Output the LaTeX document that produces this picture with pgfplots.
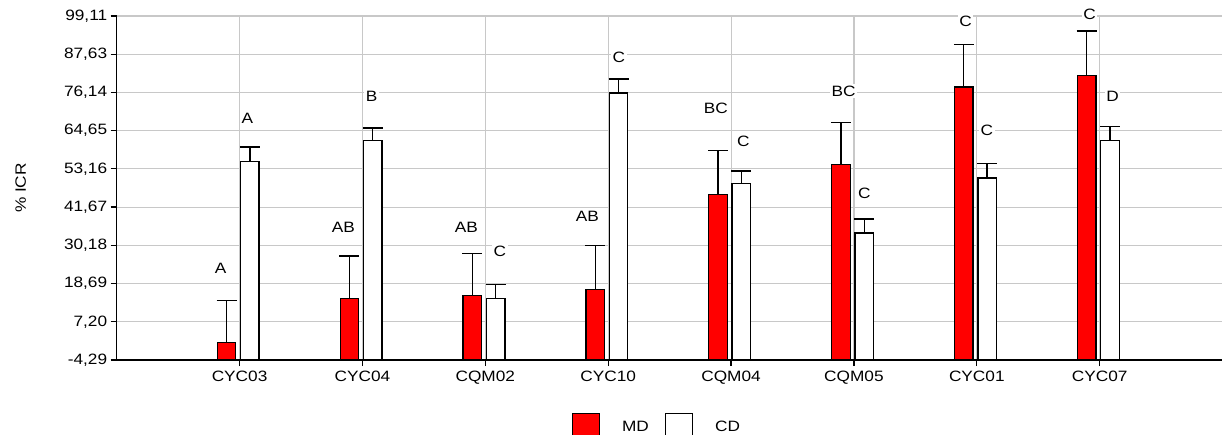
\documentclass[border=0pt]{standalone}
\usepackage{fontspec}
\setmainfont{Liberation Sans}[FakeStretch=1.15]
\usepackage{pgfplots}
\usepackage{pgfplotstable}
\pgfplotsset{compat=1.18}
\definecolor{mdred}{RGB}{255,0,0}
\definecolor{gridgray}{RGB}{200,200,200}

\pgfplotstableread{
x md mderr cd cderr
0 0.91 12.63 55.30 4.44
1 14.26 12.71 61.64 3.81
2 15.16 12.62 14.26 4.20
3 16.96 13.12 75.97 4.21
4 45.51 13.23 48.71 3.80
5 54.53 12.62 33.88 4.21
6 77.77 12.82 50.41 4.31
7 81.28 13.32 61.64 4.20
}\bars

\pgfplotstableread{
x y lab
-0.154 23.36 A
0.063 68.45 A
0.844 35.48 AB
1.075 75.07 B
1.845 35.48 AB
2.119 28.26 C
2.830 38.79 AB
3.087 86.69 C
3.877 71.37 BC
4.099 61.33 C
4.916 76.57 BC
5.084 45.81 C
5.909 97.61 C
6.082 64.85 C
6.918 99.60 C
7.105 74.86 D
}\letters

\begin{document}
\begin{tikzpicture}[font=\fontsize{15bp}{18bp}\selectfont]
\useasboundingbox (-116.7bp,-75bp) rectangle (1105.3bp,360bp);
\begin{axis}[
  scale only axis,
  width=1106bp, height=344bp,
  at={(0,0)}, anchor=south west,
  xmin=-1, xmax=8,
  ymin=-4.29, ymax=99.11,
  y coord trafo/.code={\pgfmathparse{#1+4.29}},
  y coord inv trafo/.code={\pgfmathparse{#1-4.29}},
  clip=false,
  axis x line=bottom, axis y line=left,
  axis line style={-, line width=1.4bp, black},
  xtick={0,...,7},
  xticklabels={CYC03,CYC04,CQM02,CYC10,CQM04,CQM05,CYC01,CYC07},
  ytick={-4.29,7.20,18.69,30.18,41.67,53.16,64.65,76.14,87.63,99.11},
  yticklabels={\mbox{-4,29},\mbox{7,20},\mbox{18,69},\mbox{30,18},\mbox{41,67},\mbox{53,16},\mbox{64,65},\mbox{76,14},\mbox{87,63},\mbox{99,11}},
  tick align=outside,
  major tick length=6bp,
  tick style={black, line width=1.2bp},
  xmajorgrids, ymajorgrids,
  grid style={gridgray, line width=1.1bp},
  ticklabel style={font=\fontsize{15bp}{18bp}\selectfont},
  xticklabel style={yshift=-2bp},
  ylabel={\% ICR},
  ylabel style={at={(axis description cs:-0.0868,0.5)}, anchor=center, font=\fontsize{15bp}{18bp}\selectfont},
  legend columns=2,
  legend style={at={(axis description cs:0.4885,-0.154)}, anchor=north, draw=none, fill=none, inner sep=0pt,
    font=\fontsize{15bp}{18bp}\selectfont,
    /tikz/every odd column/.append style={column sep=20bp},
    /tikz/every even column/.append style={column sep=14bp}},
  legend image code/.code={\draw[#1, line width=1.2bp] (0bp,-13.5bp) rectangle (27bp,13.5bp);},
]
\addplot[ybar, bar width=18.5bp, bar shift=-13bp, fill=mdred, draw=black, line width=1.3bp]
  table[x=x, y=md] {\bars};
\addlegendentry{MD}
\addplot[ybar, bar width=18.5bp, bar shift=10.3bp, fill=white, draw=black, line width=1.3bp]
  table[x=x, y=cd] {\bars};
\addlegendentry{CD}
% whiskers
\addplot[forget plot, draw=none, mark=none,
  error bars/.cd, y dir=plus, y explicit, error mark=-,
  error bar style={line width=1.3bp, black, draw},
  error mark options={rotate=90, mark size=10bp, line width=1.3bp, black, draw}]
  table[x expr=\thisrow{x}-0.1058, y=md, y error=mderr] {\bars};
\addplot[forget plot, draw=none, mark=none,
  error bars/.cd, y dir=plus, y explicit, error mark=-,
  error bar style={line width=1.3bp, black, draw},
  error mark options={rotate=90, mark size=10bp, line width=1.3bp, black, draw}]
  table[x expr=\thisrow{x}+0.0838, y=cd, y error=cderr] {\bars};
\addplot[only marks, mark=none, forget plot, point meta=explicit symbolic,
  nodes near coords, nodes near coords align=center,
  every node near coord/.append style={anchor=center, fill=white, inner sep=1.5bp, text=black,
    font=\fontsize{15bp}{18bp}\selectfont}]
  table[x=x, y=y, meta=lab] {\letters};
\end{axis}
\end{tikzpicture}
\end{document}
